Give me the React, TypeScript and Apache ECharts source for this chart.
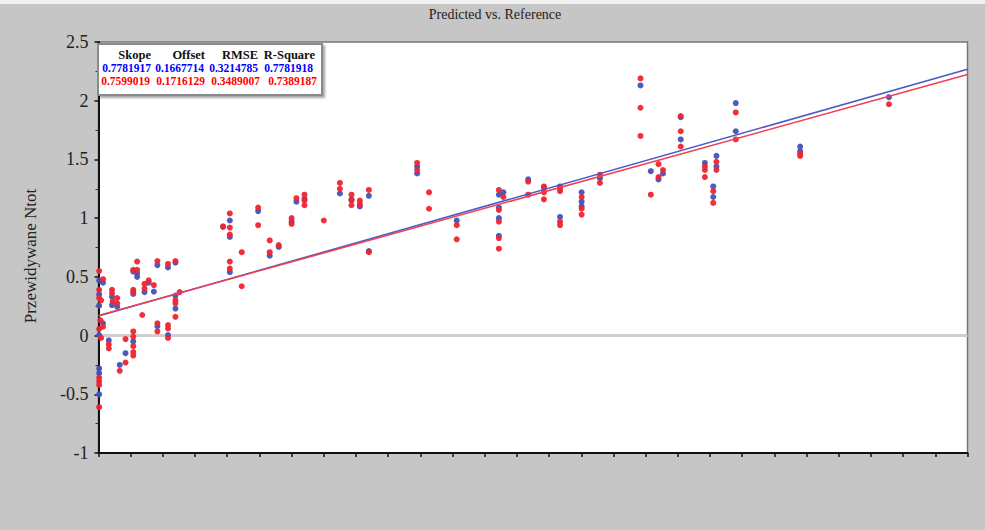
import React, { useEffect, useRef } from "react";
import * as echarts from "echarts";

// ---- data ----
const headers = ["Skope", "Offset", "RMSE", "R-Square"];
const calStats = ["0.7781917", "0.1667714", "0.3214785", "0.7781918"];
const valStats = ["0.7599019", "0.1716129", "0.3489007", "0.7389187"];

// blue (calibration) points [reference, predicted]
const bluePoints: [number, number][] = [
  [0.002, 0.47], [0.002, 0.35], [0.002, 0.255], [0.002, 0.005], [0.002, -0.28], [0.002, -0.32], [0.002, -0.5],
  [0.014, 0.45], [0.014, 0.105],
  [0.032, -0.04],
  [0.042, 0.33], [0.042, 0.26],
  [0.058, 0.245],
  [0.066, -0.25],
  [0.084, -0.15],
  [0.108, 0.545], [0.108, 0.355], [0.108, -0.05],
  [0.12, 0.53], [0.12, 0.5],
  [0.143, 0.37],
  [0.156, 0.45],
  [0.172, 0.375],
  [0.183, 0.6], [0.183, 0.08],
  [0.216, 0.58], [0.216, 0.005],
  [0.239, 0.62], [0.239, 0.34], [0.239, 0.23],
  [0.387, 0.925],
  [0.408, 0.98], [0.408, 0.84], [0.408, 0.54],
  [0.496, 1.06],
  [0.532, 0.68],
  [0.56, 0.755],
  [0.6, 0.97],
  [0.615, 1.14],
  [0.64, 1.165],
  [0.75, 1.21],
  [0.786, 1.16],
  [0.812, 1.1],
  [0.84, 1.19], [0.84, 0.72],
  [0.99, 1.44], [0.99, 1.38],
  [1.113, 0.98],
  [1.244, 1.2], [1.244, 1.09], [1.244, 1.0], [1.244, 0.85],
  [1.258, 1.22],
  [1.335, 1.33],
  [1.384, 1.26],
  [1.434, 1.27], [1.434, 1.01],
  [1.501, 1.22], [1.501, 1.14], [1.501, 1.1],
  [1.558, 1.34],
  [1.684, 2.13],
  [1.716, 1.4],
  [1.74, 1.33],
  [1.754, 1.38],
  [1.809, 1.86], [1.809, 1.67],
  [1.884, 1.47],
  [1.91, 1.27], [1.91, 1.18],
  [1.92, 1.53], [1.92, 1.44],
  [1.98, 1.98], [1.98, 1.74],
  [2.18, 1.61], [2.18, 1.57],
  [2.456, 2.03],
];

// red (validation) points [reference, predicted]
const redPoints: [number, number][] = [
  [0.002, 0.55], [0.002, 0.39], [0.002, 0.32], [0.008, 0.3], [0.006, 0.13], [0.002, 0.055], [0.008, -0.02],
  [0.002, -0.36], [0.002, -0.39], [0.002, -0.42], [0.002, -0.61],
  [0.014, 0.48], [0.014, 0.075],
  [0.032, -0.075], [0.032, -0.11],
  [0.042, 0.39], [0.042, 0.36], [0.044, 0.29],
  [0.058, 0.32], [0.058, 0.275],
  [0.066, -0.3],
  [0.084, -0.03], [0.084, -0.23],
  [0.108, 0.56], [0.108, 0.39], [0.108, 0.37], [0.108, 0.035], [0.108, -0.01], [0.108, -0.09], [0.108, -0.14], [0.108, -0.17],
  [0.12, 0.63], [0.12, 0.56],
  [0.136, 0.175],
  [0.143, 0.44], [0.143, 0.4],
  [0.156, 0.47],
  [0.172, 0.43],
  [0.183, 0.635], [0.183, 0.105], [0.183, 0.035],
  [0.216, 0.61], [0.216, 0.09], [0.216, 0.06], [0.216, -0.02],
  [0.239, 0.635], [0.239, 0.3], [0.239, 0.275], [0.239, 0.16],
  [0.252, 0.37],
  [0.387, 0.93],
  [0.408, 1.04], [0.408, 0.92], [0.408, 0.86], [0.408, 0.63], [0.408, 0.57],
  [0.445, 0.71], [0.445, 0.42],
  [0.496, 1.09], [0.496, 0.94],
  [0.532, 0.81], [0.532, 0.71],
  [0.56, 0.77],
  [0.6, 1.0], [0.6, 0.95],
  [0.615, 1.17],
  [0.64, 1.2], [0.64, 1.15], [0.64, 1.11],
  [0.7, 0.98],
  [0.75, 1.3], [0.75, 1.25],
  [0.786, 1.2], [0.786, 1.15], [0.786, 1.11],
  [0.812, 1.15], [0.812, 1.12],
  [0.84, 1.24], [0.84, 0.71],
  [0.99, 1.47], [0.99, 1.41],
  [1.027, 1.22], [1.027, 1.08],
  [1.113, 0.94], [1.113, 0.82],
  [1.244, 1.24], [1.244, 1.07], [1.244, 0.97], [1.244, 0.83], [1.244, 0.74],
  [1.258, 1.18],
  [1.335, 1.31], [1.335, 1.2],
  [1.384, 1.27], [1.384, 1.22], [1.384, 1.16],
  [1.434, 1.25], [1.434, 1.23], [1.434, 0.97], [1.434, 0.94],
  [1.501, 1.18], [1.501, 1.08], [1.501, 1.03],
  [1.558, 1.37], [1.558, 1.3],
  [1.684, 2.19], [1.684, 1.94], [1.684, 1.7],
  [1.716, 1.2],
  [1.74, 1.46], [1.74, 1.35],
  [1.754, 1.41],
  [1.809, 1.87], [1.809, 1.74], [1.809, 1.61],
  [1.884, 1.44], [1.884, 1.41], [1.884, 1.35],
  [1.91, 1.23], [1.91, 1.13],
  [1.92, 1.48], [1.92, 1.41],
  [1.98, 1.9], [1.98, 1.67],
  [2.18, 1.55], [2.18, 1.53],
  [2.456, 1.97],
];

// regression lines (endpoints)
const blueFit: [number, number][] = [[0, 0.1668], [2.7, 2.2679]];
const redFit: [number, number][] = [[0, 0.1716], [2.7, 2.2233]];
const zeroLine: [number, number][] = [[0, 0], [2.7, 0]];

const SERIF = "'Liberation Serif', 'DejaVu Serif', serif";
const BLUE_PT = "#4352b8";
const RED_PT = "#ee2530";

export default function App() {
  const ref = useRef<HTMLDivElement>(null);
  useEffect(() => {
    document.body.style.margin = "0";
    const chart = echarts.init(ref.current!, null, { renderer: "svg" });
    const colRights = [151, 205, 258, 315];
    const graphics: any[] = [
      { type: "rect", left: 0, top: 0, shape: { width: 985, height: 4 }, style: { fill: "#f2f2f2" }, z: 0 },
      {
        type: "text", x: 495, y: 14, z: 10,
        style: { text: "Predicted vs. Reference", font: `14px ${SERIF}`, fill: "#222", align: "center", verticalAlign: "middle" },
      },
      {
        type: "text", x: 30, y: 256, rotation: Math.PI / 2, z: 10,
        style: { text: "Przewidywane Ntot", font: `17px ${SERIF}`, fill: "#222", align: "center", verticalAlign: "middle" },
      },
      {
        type: "rect", z: 20,
        shape: { x: 98, y: 44, width: 224, height: 51 },
        style: { fill: "#fff", stroke: "#8a8a8a", lineWidth: 2, shadowColor: "rgba(0,0,0,0.35)", shadowBlur: 2, shadowOffsetX: 2, shadowOffsetY: 2 },
      },
    ];
    headers.forEach((h, i) => graphics.push({
      type: "text", x: colRights[i], y: 54.5, z: 21,
      style: { text: h, font: `bold 12.5px ${SERIF}`, fill: "#111", align: "right", verticalAlign: "middle" },
    }));
    const blueRights = [151, 204, 258, 313];
    const redRights = [150, 205, 260, 317];
    calStats.forEach((s, i) => graphics.push({
      type: "text", x: blueRights[i], y: 68, z: 21,
      style: { text: s, font: `bold 11.5px ${SERIF}`, fill: "#0000ff", align: "right", verticalAlign: "middle" },
    }));
    valStats.forEach((s, i) => graphics.push({
      type: "text", x: redRights[i], y: 80.5, z: 21,
      style: { text: s, font: `bold 11.5px ${SERIF}`, fill: "#ff0000", align: "right", verticalAlign: "middle" },
    }));

    chart.setOption({
      animation: false,
      backgroundColor: "#c6c6c6",
      grid: {
        left: 98.5, right: 17.5, top: 42, bottom: 77,
        show: true, backgroundColor: "#ffffff", borderColor: "#777", borderWidth: 1.5,
      },
      xAxis: {
        type: "value", min: 0, max: 2.7, interval: 0.1,
        axisLine: { show: true, onZero: false, lineStyle: { color: "#111", width: 2 } },
        axisTick: { show: true, length: 4, lineStyle: { color: "#111", width: 1.5 } },
        axisLabel: { show: false },
        splitLine: { show: false },
      },
      yAxis: {
        type: "value", min: -1, max: 2.5, interval: 0.5,
        axisLine: { show: true, onZero: false, lineStyle: { color: "#111", width: 2 } },
        axisTick: { show: true, length: 4, lineStyle: { color: "#111", width: 1.5 } },
        minorTick: { show: true, splitNumber: 2, length: 3, lineStyle: { color: "#333", width: 1 } },
        axisLabel: { fontFamily: SERIF, fontSize: 18, color: "#222", margin: 10 },
        splitLine: { show: false },
      },
      series: [
        {
          type: "line", data: zeroLine, symbol: "none", silent: true, z: 1,
          lineStyle: { color: "#cfcfcf", width: 3 },
        },
        {
          type: "scatter", data: bluePoints, symbol: "circle", symbolSize: 6, clip: false, z: 3,
          itemStyle: { color: BLUE_PT, opacity: 0.95 },
        },
        {
          type: "scatter", data: redPoints, symbol: "circle", symbolSize: 6, clip: false, z: 4,
          itemStyle: { color: RED_PT, opacity: 0.95 },
        },
        {
          type: "line", data: blueFit, symbol: "none", z: 5,
          lineStyle: { color: "#4a5ac8", width: 1.5 },
        },
        {
          type: "line", data: redFit, symbol: "none", z: 5,
          lineStyle: { color: "#f04050", width: 1.5 },
        },
      ],
      graphic: graphics,
    });
    return () => chart.dispose();
  }, []);
  return <div ref={ref} style={{ position: "fixed", left: 0, top: 0, width: 985, height: 530 }} />;
}
